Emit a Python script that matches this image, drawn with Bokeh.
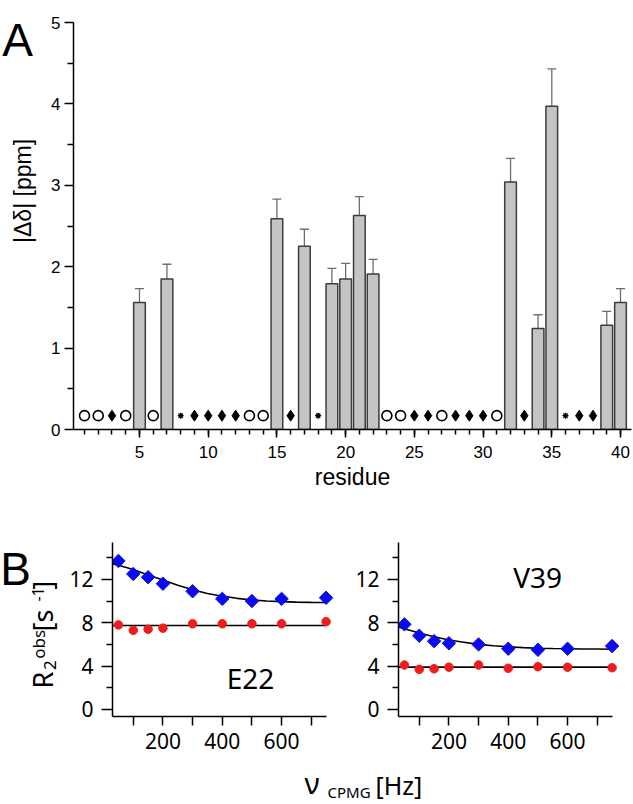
import math
from bokeh.plotting import figure
from bokeh.models import Range1d, FixedTicker, Label, Whisker, ColumnDataSource, TeeHead
from bokeh.layouts import column, row
from bokeh.embed import file_html
from bokeh.resources import INLINE

# ---------------- Panel A data ----------------
bar_residues = [5, 7, 15, 17, 19, 20, 21, 22, 32, 34, 35, 39, 40]
bar_values = [1.56, 1.85, 2.59, 2.25, 1.79, 1.85, 2.63, 1.91, 3.04, 1.24, 3.97, 1.28, 1.56]
bar_errors = [0.17, 0.18, 0.24, 0.21, 0.19, 0.19, 0.23, 0.18, 0.29, 0.17, 0.46, 0.17, 0.17]

open_residues = [1, 2, 4, 6, 13, 14, 23, 24, 27, 31]
diamond_residues = [3, 9, 10, 11, 12, 16, 25, 26, 28, 29, 30, 33, 37, 38]
star_residues = [8, 18, 36]
marker_level = 0.17

x_major_ticks = [5, 10, 15, 20, 25, 30, 35, 40]
x_minor_ticks = list(range(1, 41))
y_major_ticks = [0, 1, 2, 3, 4, 5]
y_minor_ticks = [0.5, 1.5, 2.5, 3.5, 4.5]

# ---------------- Panel B data ----------------
nu_cpmg = [50, 100, 150, 200, 300, 400, 500, 600, 750]
e22_blue = [13.7, 12.5, 12.2, 11.6, 10.9, 10.2, 10.0, 10.2, 10.3]
e22_red = [7.8, 7.3, 7.4, 7.5, 7.9, 7.9, 7.9, 7.9, 8.1]
v39_blue = [7.85, 6.8, 6.3, 6.1, 6.0, 5.6, 5.5, 5.6, 5.85]
v39_red = [4.1, 3.7, 3.75, 3.9, 4.1, 3.8, 3.95, 3.9, 3.85]

fit_x = [30, 50, 100, 150, 200, 250, 300, 350, 400, 450, 500, 550, 600, 650, 700, 750]
e22_blue_fit = [13.45, 13.3, 12.9, 12.4, 11.95, 11.45, 11.05, 10.7, 10.45, 10.25, 10.1, 10.0, 9.95, 9.9, 9.88, 9.87]
v39_blue_fit = [7.6, 7.45, 7.05, 6.7, 6.4, 6.2, 6.0, 5.88, 5.78, 5.7, 5.65, 5.62, 5.6, 5.58, 5.57, 5.56]
red_fit_x = [30, 750]
e22_red_fit = [7.75, 7.75]
v39_red_fit = [3.9, 3.9]

b_y_major = [0, 4, 8, 12]
b_y_minor = [2, 6, 10, 14]
b_x_major = [200, 400, 600]
b_x_minor = [100, 300, 500, 700]

BLUE = "#0a0af0"
RED = "#ee1c1c"
FONT_A = "Liberation Sans"
FONT_B = "Noto Sans"


def style_axis(ax, font, size, tick_out, minor_out, standoff):
    ax.axis_line_color = "black"
    ax.axis_line_width = 1.5
    ax.major_tick_line_color = "black"
    ax.minor_tick_line_color = "black"
    ax.major_tick_line_width = 1.5
    ax.minor_tick_line_width = 1.5
    ax.major_tick_in = 0
    ax.minor_tick_in = 0
    ax.major_tick_out = tick_out
    ax.minor_tick_out = minor_out
    ax.major_label_text_font = font
    ax.major_label_text_font_size = f"{size}px"
    ax.major_label_text_color = "black"
    ax.major_label_standoff = standoff


class TextStrip:
    """Axis-free figure used only to hold texts beside the plots."""

    def __init__(self, width, height, x0, y0):
        self.x0, self.y0, self.h = x0, y0, height
        s = figure(width=width, height=height, output_backend="svg", toolbar_location=None,
                   x_range=Range1d(0, width), y_range=Range1d(0, height),
                   x_axis_location=None, y_axis_location=None, min_border=0)
        s.outline_line_color = None
        s.grid.visible = False
        self.fig = s

    def text(self, page_x, page_y, txt, font, size, angle=0.0, align="left"):
        self.fig.add_layout(Label(x=page_x - self.x0, y=self.h - (page_y - self.y0), text=txt,
                                  angle=angle, text_font=font, text_font_size=f"{size}px",
                                  text_color="black", text_baseline="middle",
                                  text_align=align))


# ---------------- Panel A ----------------
TOP_H = 500
STRIP_A = 40
stripA = TextStrip(STRIP_A, TOP_H, 0, 0)
stripA.text(17, 21, "A", FONT_A, 46, align="center")
stripA.text(22, 207, "|Δδ| [ppm]", FONT_A, 23, angle=math.pi / 2, align="center")

pa = figure(width=633 - STRIP_A, height=TOP_H, output_backend="svg", toolbar_location=None,
            x_range=Range1d(0.2, 40.8), y_range=Range1d(0, 5),
            min_border_left=73 - STRIP_A, min_border_right=2, min_border_top=22, min_border_bottom=71)
pa.outline_line_color = None
pa.grid.visible = False

src = ColumnDataSource(dict(x=bar_residues, top=bar_values,
                            upper=[v + e for v, e in zip(bar_values, bar_errors)],
                            lower=[v - e for v, e in zip(bar_values, bar_errors)]))
pa.vbar(x="x", top="top", bottom=0, width=0.85, source=src,
        fill_color="#c4c4c4", line_color="#3c3c3c", line_width=1.5)
pa.add_layout(Whisker(source=src, base="x", upper="upper", lower="lower",
                      line_color="#6e6e6e", line_width=1.3,
                      upper_head=TeeHead(size=9, line_color="#6e6e6e", line_width=1.3),
                      lower_head=TeeHead(size=11, line_color="#5a5a5a", line_width=1.3)))

pa.scatter(open_residues, [marker_level] * len(open_residues), marker="circle", size=10,
           fill_color=None, line_color="black", line_width=1.6)
pa.scatter(diamond_residues, [marker_level] * len(diamond_residues), marker="diamond", size=11,
           fill_color="black", line_color="black")
pa.scatter(star_residues, [marker_level] * len(star_residues), marker="asterisk", size=6,
           line_color="black", line_width=1.4)

pa.xaxis.ticker = FixedTicker(ticks=x_major_ticks, minor_ticks=x_minor_ticks)
pa.yaxis.ticker = FixedTicker(ticks=y_major_ticks, minor_ticks=y_minor_ticks)
style_axis(pa.xaxis[0], FONT_A, 17, 8, 5, 8)
style_axis(pa.yaxis[0], FONT_A, 17, 9, 6, 4)
pa.xaxis.axis_label = "residue"
pa.xaxis.axis_label_text_font = FONT_A
pa.xaxis.axis_label_text_font_size = "23px"
pa.xaxis.axis_label_text_font_style = "normal"
pa.xaxis.axis_label_text_color = "black"
pa.xaxis.axis_label_standoff = 3

# ---------------- Panel B ----------------
B_H = 262
B_TOP = TOP_H
STRIP_B = 60
stripB = TextStrip(STRIP_B, B_H, 0, B_TOP)
stripB.text(15, 540, "B", FONT_A, 46, align="center")
# composed rotated title R2^obs [s^-1]: (text, centre-line x, start y, font px)
ylabel_parts = [
    ("R", 41.5, 720, 27),
    ("2", 49, 692, 17),
    ("obs", 37.5, 675, 17),
    ("[s", 41.5, 634, 27),
    ("-1", 37, 589, 16),
    ("]", 41.5, 571, 27),
]
for txt, cx, py, fs in ylabel_parts:
    stripB.text(cx, py, txt, FONT_B, fs, angle=math.pi / 2)


def make_b(width, border_left, border_right, blue, red, blue_fit, red_fit, tag, tag_x, tag_y):
    p = figure(width=width, height=B_H, output_backend="svg", toolbar_location=None,
               x_range=Range1d(30, 775), y_range=Range1d(-0.65, 15.4),
               min_border_left=border_left, min_border_right=border_right,
               min_border_top=42, min_border_bottom=B_H - 42 - 174)
    p.outline_line_color = None
    p.grid.visible = False
    p.line(fit_x, blue_fit, line_color="black", line_width=1.6)
    p.line(red_fit_x, red_fit, line_color="black", line_width=1.6)
    p.scatter(nu_cpmg, blue, marker="square", angle=0.785398, size=9.5,
              fill_color=BLUE, line_color=BLUE)
    p.scatter(nu_cpmg, red, marker="circle", size=8.5, fill_color=RED, line_color=RED)
    p.xaxis.ticker = FixedTicker(ticks=b_x_major, minor_ticks=b_x_minor)
    p.yaxis.ticker = FixedTicker(ticks=b_y_major, minor_ticks=b_y_minor)
    p.xaxis.bounds = (30, 750)
    style_axis(p.xaxis[0], FONT_B, 21, 9, 9, 7)
    style_axis(p.yaxis[0], FONT_B, 21, 11, 6, 8)
    p.add_layout(Label(x=tag_x, y=tag_y, text=tag, text_font=FONT_B, text_font_size="28px",
                       text_color="black", text_align="center", text_baseline="middle"))
    return p


pb1 = make_b(340 - STRIP_B, 112 - STRIP_B, 7, e22_blue, e22_red, e22_blue_fit, e22_red_fit,
             "E22", 495, 2.9)
pb2 = make_b(293, 58, 14, v39_blue, v39_red, v39_blue_fit, v39_red_fit, "V39", 499, 12.2)

# ---------------- common x label ----------------
LBL_TOP = B_TOP + B_H
LBL_H = 804 - LBL_TOP
pl = TextStrip(633, LBL_H, 0, LBL_TOP)
pl.text(304, 782, "ν", FONT_B, 29)
pl.text(327, 791, "CPMG", FONT_B, 15)
pl.text(375, 784, "[Hz]", FONT_B, 25)

layout = column(row(stripA.fig, pa, spacing=0),
                row(stripB.fig, pb1, pb2, spacing=0), pl.fig, spacing=0)
open("out.html", "w").write(file_html(layout, INLINE))
